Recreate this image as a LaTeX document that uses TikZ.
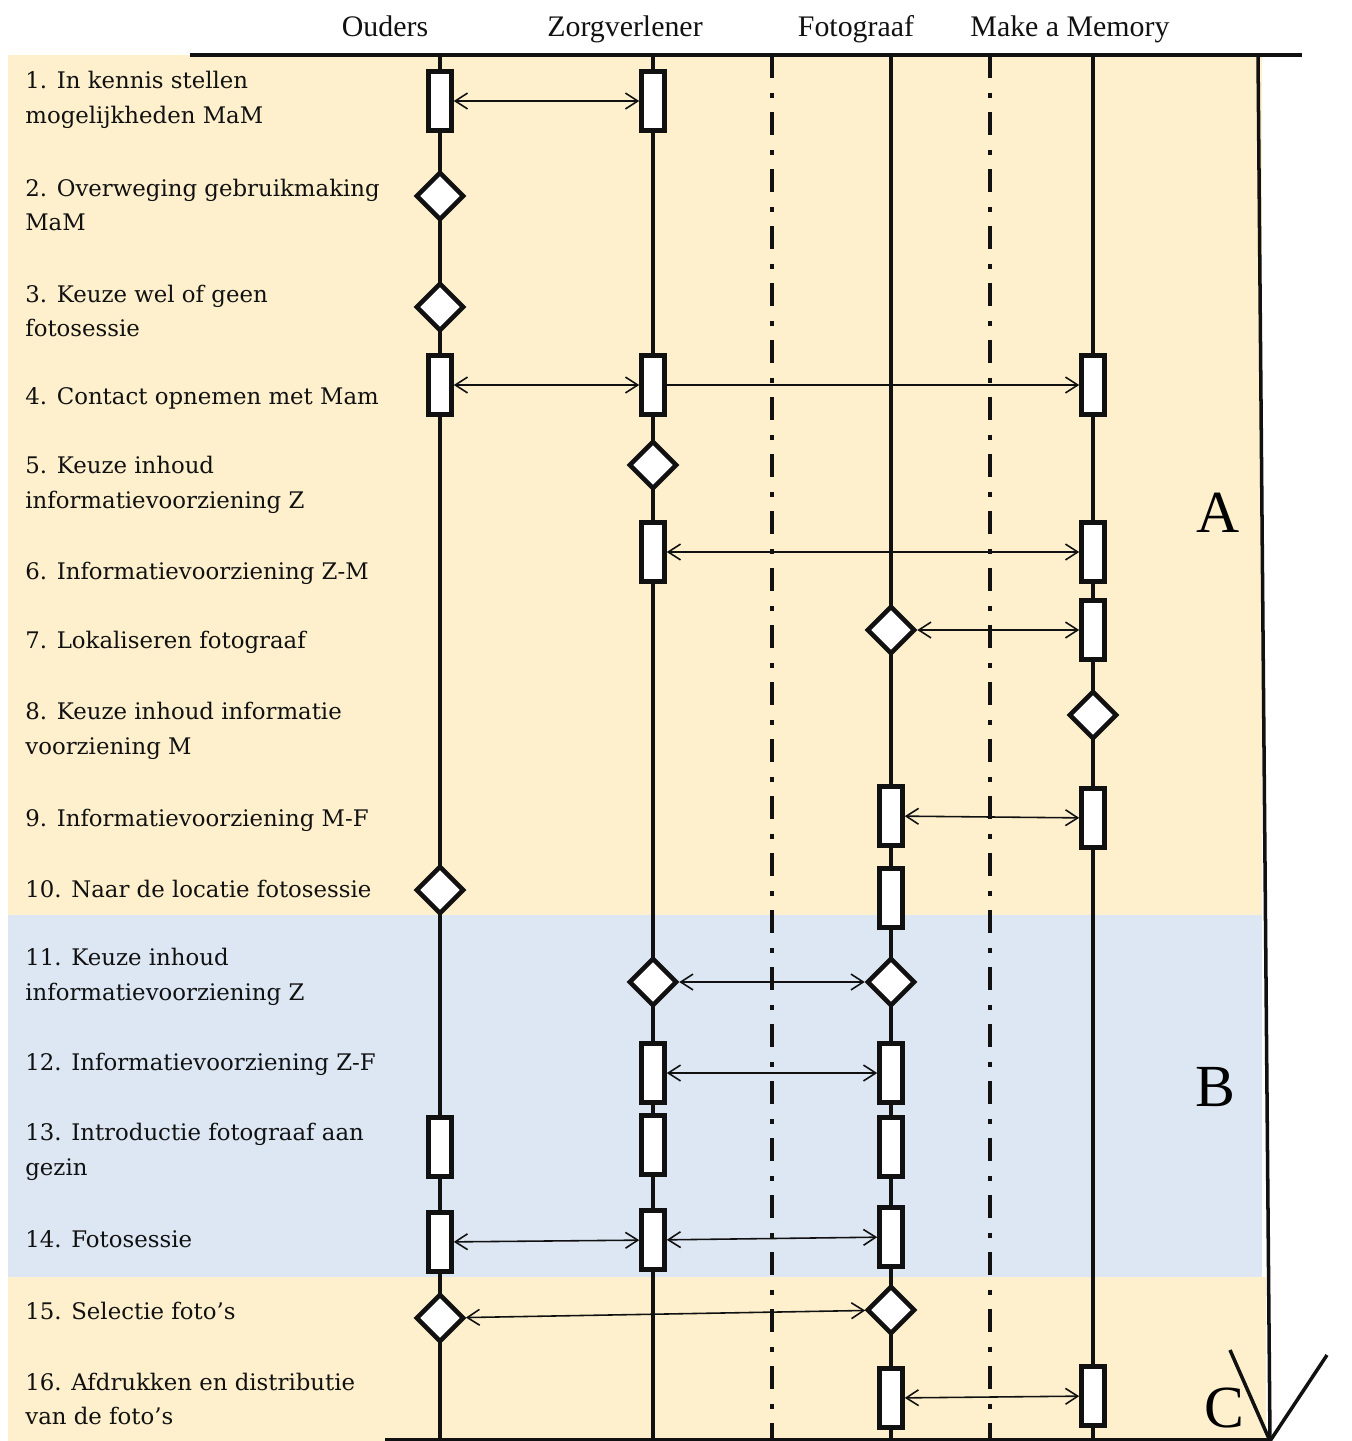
\documentclass[tikz,border=0pt]{standalone}
\usepackage{fontspec}
\setmainfont{DejaVu Serif}
\newfontfamily\headfont{Liberation Serif}
\usetikzlibrary{arrows.meta,shapes.geometric,calc}
\definecolor{mamBeige}{HTML}{FEF0CD}
\definecolor{mamBlue}{HTML}{DCE7F3}
\definecolor{mamInk}{HTML}{111111}
\begin{document}
\begin{tikzpicture}[x=0.02cm, y=-0.02cm,
  act/.style={draw=mamInk, fill=white, line width=2.6pt, minimum width=0.46cm,
    minimum height=1.18cm, inner sep=0pt},
  choice/.style={diamond, draw=mamInk, fill=white, line width=2.6pt,
    minimum width=0.96cm, minimum height=0.96cm, inner sep=0pt},
  msg/.style={{Straight Barb[length=7pt,width=9pt]}-{Straight Barb[length=7pt,width=9pt]}, line width=0.9pt, draw=mamInk},
  msgto/.style={-{Straight Barb[length=7pt,width=9pt]}, line width=0.9pt, draw=mamInk},
  life/.style={line width=2pt, draw=mamInk},
  border/.style={line width=2.3pt, draw=mamInk, dash pattern=on 0.46cm off 0.3cm on 0.1cm off 0.28cm},
  step label/.style={anchor=west, align=left, font=\fontsize{13pt}{19.8pt}\selectfont, text=mamInk, inner sep=0pt},
  lane/.style={anchor=base, font=\headfont\fontsize{17pt}{17pt}\selectfont, text=mamInk, inner sep=0pt},
  phase/.style={font=\headfont\fontsize{34pt}{34pt}\selectfont, text=black, inner sep=0pt}
]
\useasboundingbox (0,0) rectangle (1352,1441);
% achtergrond fasen
\fill[mamBeige] (8,55) rectangle (1262,915);
\fill[mamBlue] (8,915) rectangle (1262,1277);
\fill[mamBeige] (8,1277) rectangle (1266,1441);
% kop
\node[lane] (hOu) at (385,36) {Ouders};
\node[lane] (hZo) at (625,36) {Zorgverlener};
\node[lane] (hFo) at (856,36) {Fotograaf};
\node[lane] (hMm) at (1070,36) {Make a Memory};
\coordinate (headL) at (190,55);
\coordinate (headR) at (1302,55);
\draw[line width=2.4pt, mamInk] (headL) -- (headR);
\coordinate (footL) at (385,1440);
\coordinate (footR) at (1270,1440);
\draw[line width=2pt, mamInk] (footL) -- (footR);
% levenslijnen
\coordinate (ouT) at (440,55);   \coordinate (ouB) at (440,1441);
\coordinate (zoT) at (653,55);   \coordinate (zoB) at (653,1441);
\coordinate (d1T) at (772,55);   \coordinate (d1B) at (772,1441);
\coordinate (foT) at (891,55);   \coordinate (foB) at (891,1441);
\coordinate (d2T) at (990,55);   \coordinate (d2B) at (990,1441);
\coordinate (mmT) at (1093,55);  \coordinate (mmB) at (1093,1441);
\draw[life] (ouT) -- (ouB);
\draw[life] (zoT) -- (zoB);
\draw[life] (foT) -- (foB);
\draw[life] (mmT) -- (mmB);
\draw[border] (d1T) -- (d1B);
\draw[border] (d2T) -- (d2B);
% tijdpijl
\coordinate (timeT) at (1258,55);
\coordinate (timeB) at (1270,1441);
\coordinate (barbL) at (1230,1350);
\coordinate (barbR) at (1327,1355);
\draw[life] (timeT) -- (timeB);
\draw[life] (barbL) -- (timeB) -- (barbR);
\node[phase] (fA) at (1218,513) {A};
\node[phase] (fB) at (1215,1087) {B};
\node[phase] (fC) at (1224,1408) {C};
% stappen
\node[step label] (lab1) at (25,100) {1. In kennis stellen\\mogelijkheden MaM};
\node[step label] (lab2) at (25,205) {2. Overweging gebruikmaking\\MaM};
\node[step label] (lab3) at (25,311) {3. Keuze wel of geen\\fotosessie};
\node[step label] (lab4) at (25,398) {4. Contact opnemen met Mam};
\node[step label] (lab5) at (25,485) {5. Keuze inhoud\\informatievoorziening Z};
\node[step label] (lab6) at (25,573) {6. Informatievoorziening Z-M};
\node[step label] (lab7) at (25,642) {7. Lokaliseren fotograaf};
\node[step label] (lab8) at (25,731) {8. Keuze inhoud informatie\\voorziening M};
\node[step label] (lab9) at (25,820) {9. Informatievoorziening M-F};
\node[step label] (lab10) at (25,889) {10. Naar de locatie fotosessie};
\node[step label] (lab11) at (25,977) {11. Keuze inhoud\\informatievoorziening Z};
\node[step label] (lab12) at (25,1064) {12. Informatievoorziening Z-F};
\node[step label] (lab13) at (25,1152) {13. Introductie fotograaf aan\\gezin};
\node[step label] (lab14) at (25,1239) {14. Fotosessie};
\node[step label] (lab15) at (25,1311) {15. Selectie foto’s};
\node[step label] (lab16) at (25,1399) {16. Afdrukken en distributie\\van de foto’s};
% activiteiten en keuzes
\node[act] (ou1) at (440,101) {};
\node[act] (zo1) at (653,101) {};
\node[choice] (ou2) at (440,196) {};
\node[choice] (ou3) at (440,307) {};
\node[act] (ou4) at (440,385) {};
\node[act] (zo4) at (653,385) {};
\node[act] (mm4) at (1093,385) {};
\node[choice] (zo5) at (653,465) {};
\node[act] (zo6) at (653,552) {};
\node[act] (mm6) at (1093,552) {};
\node[choice] (fo7) at (891,630) {};
\node[act] (mm7) at (1093,630) {};
\node[choice] (mm8) at (1093,715) {};
\node[act] (fo9) at (891,816) {};
\node[act] (mm9) at (1093,818) {};
\node[choice] (ou10) at (440,890) {};
\node[act] (fo10) at (891,898) {};
\node[choice] (zo11) at (653,982) {};
\node[choice] (fo11) at (891,982) {};
\node[act] (zo12) at (653,1073) {};
\node[act] (fo12) at (891,1073) {};
\node[act] (ou13) at (440,1147) {};
\node[act] (zo13) at (653,1145) {};
\node[act] (fo13) at (891,1147) {};
\node[act] (ou14) at (440,1242) {};
\node[act] (zo14) at (653,1240) {};
\node[act] (fo14) at (891,1237) {};
\node[choice] (ou15) at (440,1318) {};
\node[choice] (fo15) at (891,1310) {};
\node[act] (fo16) at (891,1398) {};
\node[act] (mm16) at (1093,1396) {};
% berichten
\draw[msg] (ou1) -- (zo1);
\draw[msg] (ou4) -- (zo4);
\draw[msgto] (zo4) -- (mm4);
\draw[msg] (zo6) -- (mm6);
\draw[msg] (fo7) -- (mm7);
\draw[msg] (fo9) -- (mm9);
\draw[msg] (zo11) -- (fo11);
\draw[msg] (zo12) -- (fo12);
\draw[msg] (ou14) -- (zo14);
\draw[msg] (zo14) -- (fo14);
\draw[msg] (ou15) -- (fo15);
\draw[msg] (fo16) -- (mm16);
\end{tikzpicture}
\end{document}
